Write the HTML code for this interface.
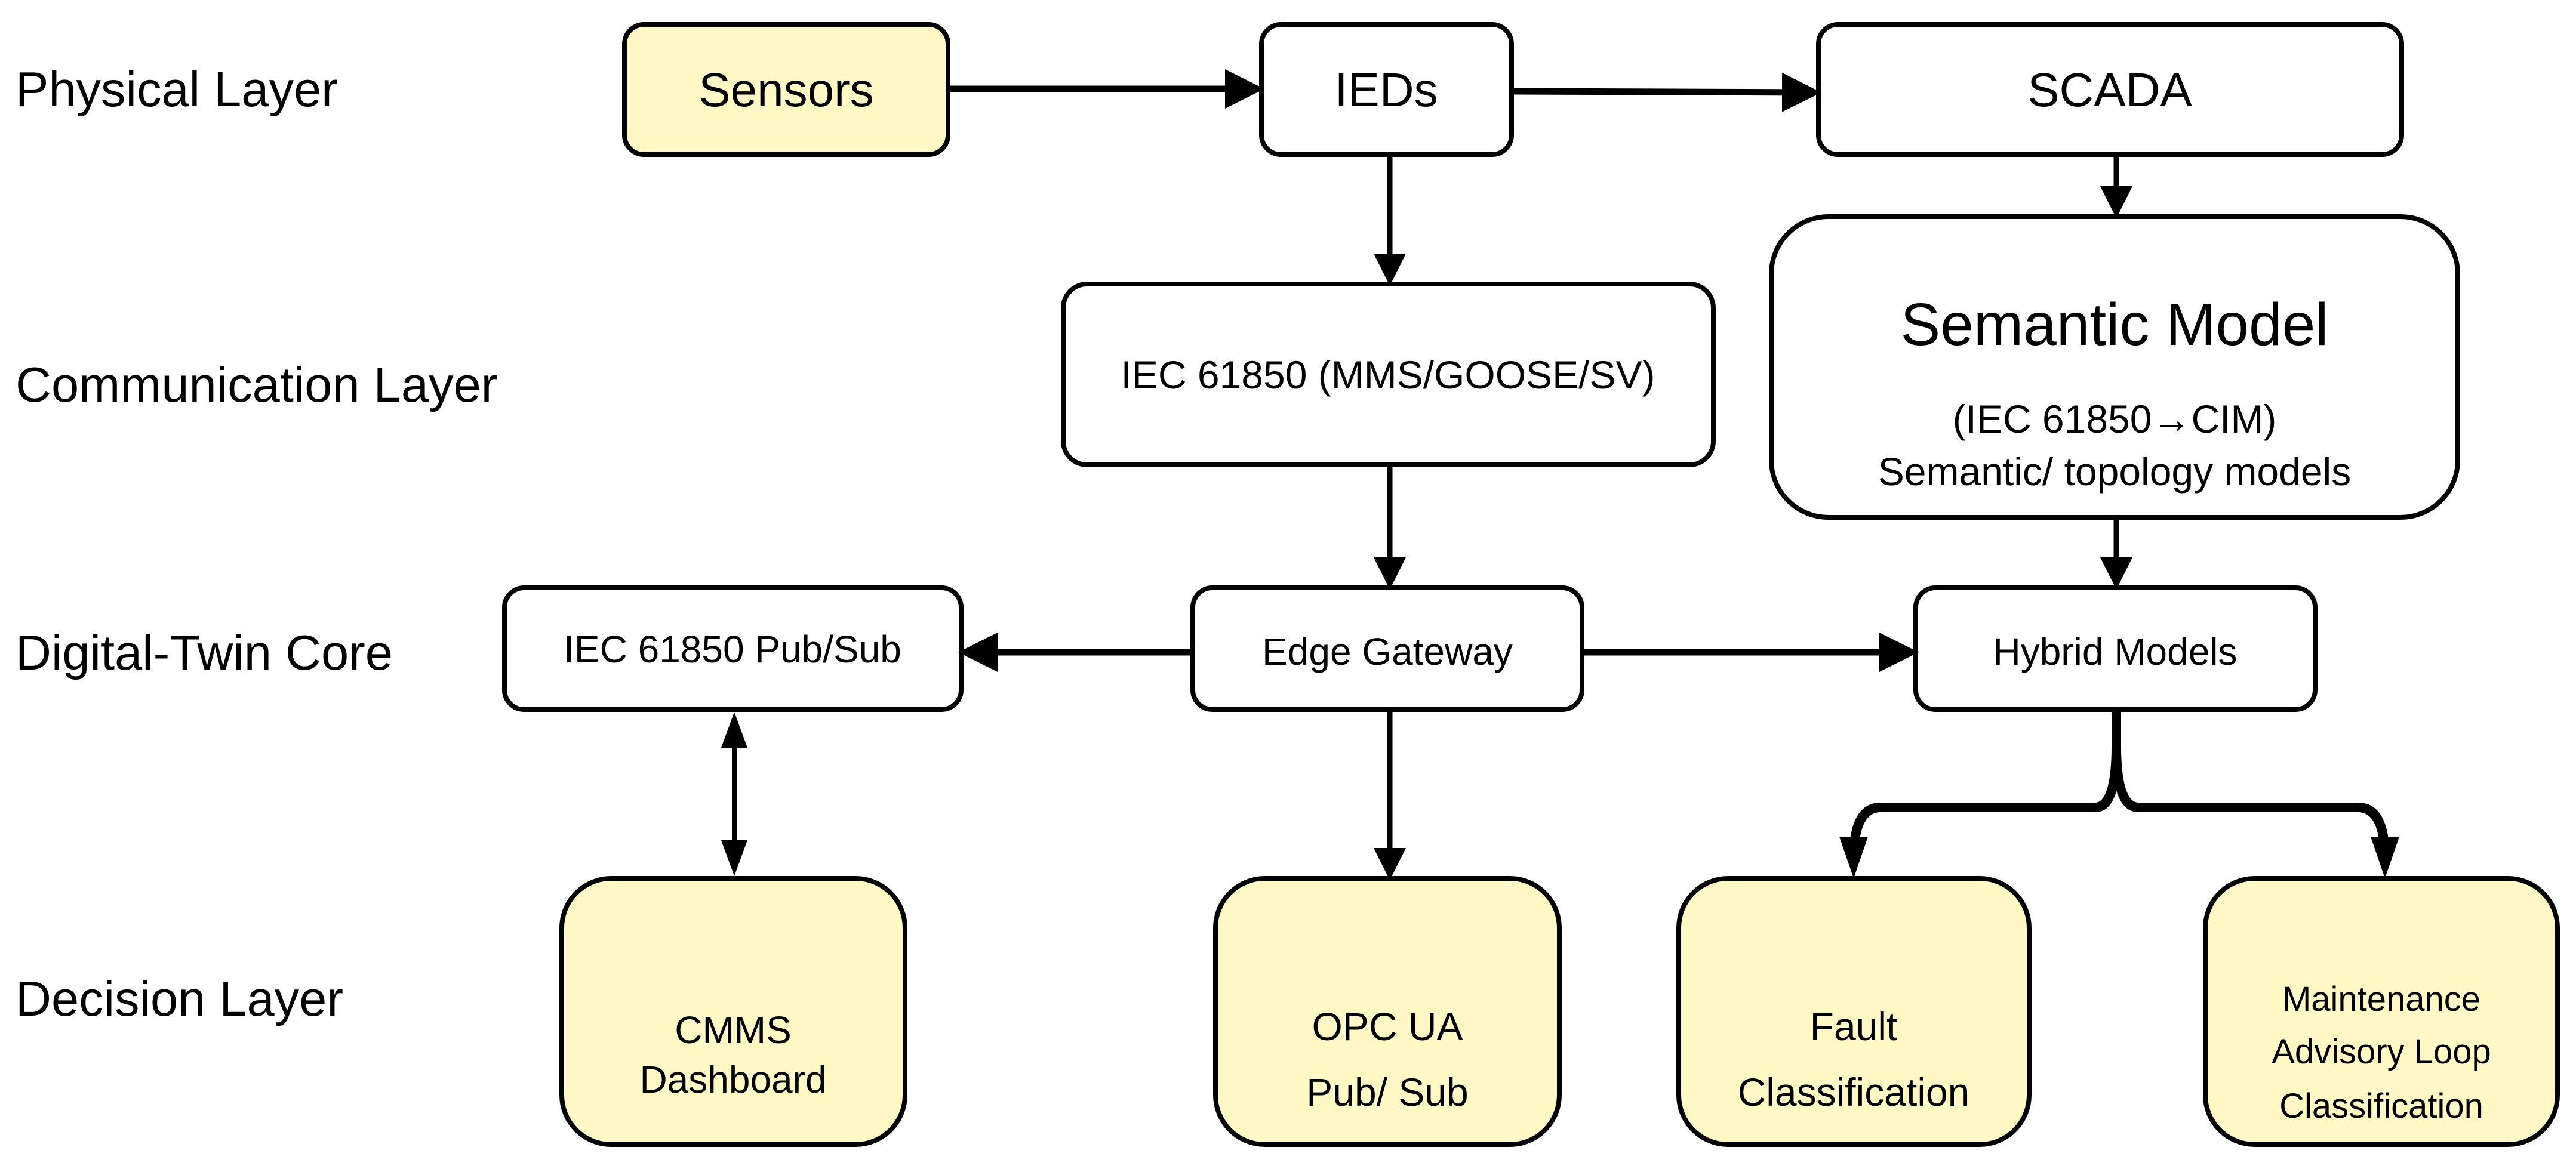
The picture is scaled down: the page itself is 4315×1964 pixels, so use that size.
<!DOCTYPE html>
<html><head><meta charset="utf-8"><style>
html,body{margin:0;padding:0;background:#fff}
svg{display:block}
text{font-family:"Liberation Sans",Arial,sans-serif;fill:#000}
</style></head><body>
<svg width="4315" height="1964" viewBox="0 0 4315 1964" xmlns="http://www.w3.org/2000/svg">
<defs>
<marker id="a" markerWidth="6" markerHeight="6" refX="5" refY="3" orient="auto" markerUnits="strokeWidth">
<path d="M0,0 L6,3 L0,6 Z" fill="#000"/></marker>
</defs>
<g font-size="83">
<text x="26" y="178">Physical Layer</text>
<text x="26" y="673">Communication Layer</text>
<text x="26" y="1122">Digital-Twin Core</text>
<text x="26" y="1702">Decision Layer</text>
</g>
<g stroke="#000" stroke-width="8">
<rect x="1046" y="41" width="542" height="218" rx="33" fill="#fdf8c4"/>
<rect x="2113" y="41" width="419" height="218" rx="33" fill="#fff"/>
<rect x="3046" y="41" width="977" height="218" rx="33" fill="#fff"/>
<rect x="1781" y="476" width="1089" height="303" rx="40" fill="#fff"/>
<rect x="2967" y="363" width="1150" height="504" rx="96" fill="#fff"/>
<rect x="845" y="985" width="765" height="204" rx="33" fill="#fff"/>
<rect x="1998" y="985" width="652" height="204" rx="33" fill="#fff"/>
<rect x="3209" y="985" width="669" height="204" rx="33" fill="#fff"/>
<rect x="941" y="1472" width="575" height="446" rx="83" fill="#fdf8c4"/>
<rect x="2036" y="1472" width="576" height="446" rx="83" fill="#fdf8c4"/>
<rect x="2812" y="1472" width="587" height="446" rx="83" fill="#fdf8c4"/>
<rect x="3694" y="1472" width="590" height="446" rx="83" fill="#fdf8c4"/>
</g>
<g stroke="#000" fill="none">
<line x1="1592" y1="149" x2="2107" y2="149" stroke-width="11" marker-end="url(#a)"/>
<line x1="2536" y1="153" x2="3040" y2="155" stroke-width="11" marker-end="url(#a)"/>
<line x1="2328" y1="263" x2="2328" y2="470" stroke-width="9" marker-end="url(#a)"/>
<line x1="3545" y1="263" x2="3545" y2="357" stroke-width="9" marker-end="url(#a)"/>
<line x1="2328" y1="783" x2="2328" y2="979" stroke-width="9" marker-end="url(#a)"/>
<line x1="3545" y1="871" x2="3545" y2="979" stroke-width="9" marker-end="url(#a)"/>
<line x1="1994" y1="1093" x2="1616" y2="1093" stroke-width="11" marker-end="url(#a)"/>
<line x1="2654" y1="1093" x2="3203" y2="1093" stroke-width="11" marker-end="url(#a)"/>
<line x1="2328" y1="1193" x2="2328" y2="1466" stroke-width="9" marker-end="url(#a)"/>
<line x1="1230" y1="1250" x2="1230" y2="1412" stroke-width="8"/>
<path d="M1230,1193 l-22,60 h44 Z M1230,1468 l-22,-60 h44 Z" fill="#000" stroke="none"/>
<path d="M3545,1193 V1250 Q3545,1353 3510,1353 H3150 Q3105,1353 3105,1440" stroke-width="16"/>
<path d="M3545,1193 V1250 Q3545,1353 3582,1353 H3950 Q3995,1353 3995,1440" stroke-width="16"/>
<path d="M3105,1472 l-24,-70 h48 Z M3995,1472 l-24,-70 h48 Z" fill="#000" stroke="none"/>
</g>
<g text-anchor="middle">
<text x="1317" y="178" font-size="80">Sensors</text>
<text x="2322" y="178" font-size="80">IEDs</text>
<text x="3534" y="178" font-size="80">SCADA</text>
<text x="2325" y="651" font-size="66">IEC 61850 (MMS/GOOSE/SV)</text>
<text x="3542" y="578" font-size="100">Semantic Model</text>
<text x="3542" y="725" font-size="66">(IEC 61850→CIM)</text>
<text x="3542" y="813" font-size="66">Semantic/ topology models</text>
<text x="1227" y="1110" font-size="64">IEC 61850 Pub/Sub</text>
<text x="2324" y="1114" font-size="64">Edge Gateway</text>
<text x="3543" y="1114" font-size="64">Hybrid Models</text>
<text x="1228" y="1748" font-size="64">CMMS</text>
<text x="1228" y="1831" font-size="64">Dashboard</text>
<text x="2324" y="1743" font-size="66">OPC UA</text>
<text x="2324" y="1853" font-size="66">Pub/ Sub</text>
<text x="3105" y="1743" font-size="66">Fault</text>
<text x="3105" y="1853" font-size="66">Classification</text>
<text x="3989" y="1694" font-size="58">Maintenance</text>
<text x="3989" y="1782" font-size="58">Advisory Loop</text>
<text x="3989" y="1873" font-size="58">Classification</text>
</g>
</svg>
</body></html>
